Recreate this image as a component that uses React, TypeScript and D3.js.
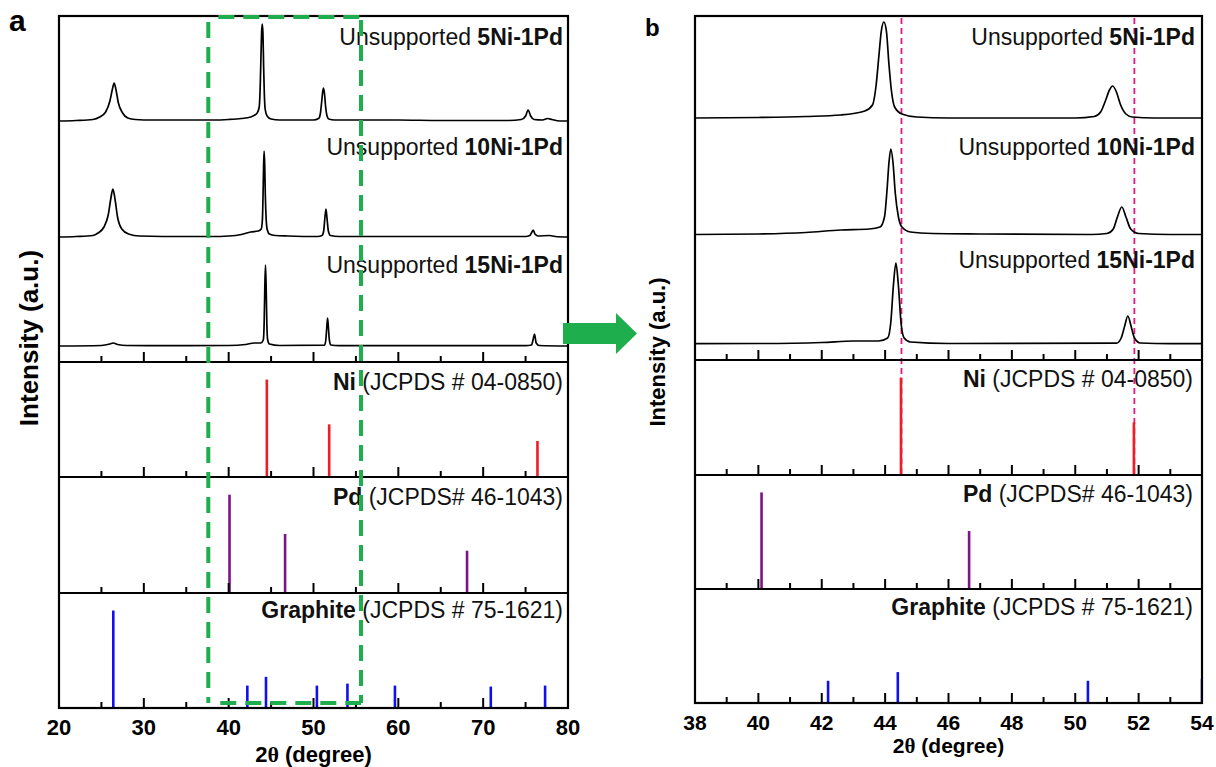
import React from "react";
import * as d3 from "d3";

// ---------- data ----------
const sampleLabels = ["5Ni-1Pd", "10Ni-1Pd", "15Ni-1Pd"];

// 2θ (deg), intensity above baseline (a.u.)
const pattern5Ni: [number, number][] = [
  [20, 0], [22, 0.5], [24, 1.5], [24.8, 4], [25.5, 9], [26.0, 20], [26.3, 32], [26.5, 38], [26.7, 32],
  [27.0, 18], [27.5, 8], [28.1, 3], [29, 1.5], [31, 1], [35, 1], [38, 1], [40, 1.5], [41.5, 2.5],
  [42.6, 4], [43.36, 8], [43.6, 14], [43.72, 35], [43.8, 62], [43.88, 88], [43.96, 97], [44.04, 88],
  [44.12, 55], [44.2, 28], [44.3, 12], [44.53, 5], [45, 2], [46, 1], [48, 1], [50, 1], [50.6, 2.5],
  [50.8, 7], [50.95, 18], [51.08, 29], [51.18, 33], [51.3, 27], [51.42, 15], [51.6, 5], [51.8, 2],
  [52.5, 1], [56, 1], [60, 1], [65, 0.5], [70, 0.5], [73, 0.5], [74.5, 1.5], [75.0, 5], [75.3, 11],
  [75.6, 5], [76.0, 1.5], [77, 1], [77.6, 2.5], [78.1, 1.5], [79, 0], [80, 0],
];

const pattern10Ni: [number, number][] = [
  [20, 0], [22, 0.5], [24, 1.5], [24.6, 4], [25.3, 10], [25.8, 22], [26.1, 38], [26.35, 48], [26.6, 38],
  [26.9, 20], [27.4, 8], [28.2, 3], [29.5, 1], [35, 0.5], [38, 0.5], [40, 1], [41.5, 2.5], [42.6, 5],
  [43.5, 6], [43.84, 8], [43.98, 18], [44.06, 45], [44.12, 72], [44.18, 86], [44.25, 72], [44.32, 42],
  [44.42, 18], [44.53, 8], [44.8, 3], [45.5, 1.5], [47, 1], [50.5, 0.5], [51.0, 1.5], [51.2, 6],
  [51.33, 18], [51.47, 28], [51.6, 18], [51.75, 6], [52.0, 1.5], [53, 0.5], [65, 0.5], [75, 0.5],
  [75.5, 1.5], [75.75, 5], [75.9, 7], [76.1, 3], [76.5, 1], [77.8, 1.5], [78.5, 0.5], [80, 0],
];

const pattern15Ni: [number, number][] = [
  [20, 0], [25, 0.5], [26.0, 2], [26.4, 3], [26.9, 1.5], [28, 0.5], [35, 0.3], [40, 0.5], [42, 1.5],
  [43, 3], [43.8, 3], [44.08, 6], [44.18, 22], [44.26, 58], [44.34, 81], [44.42, 58], [44.5, 22],
  [44.6, 6], [44.8, 2], [46, 0.5], [51.3, 0.8], [51.45, 6], [51.56, 18], [51.66, 28], [51.76, 18],
  [51.87, 6], [52.05, 1], [53, 0.3], [65, 0.3], [75, 0.3], [75.7, 1], [75.9, 7], [76.05, 12],
  [76.25, 3], [76.6, 0.5], [80, 0],
];

const patterns = [pattern5Ni, pattern10Ni, pattern15Ni];
const stackOffsets = [241, 125, 16];

const niPeaks = [44.5, 51.85, 76.4];
const niIntensity = [100, 54, 37];
const pdPeaks = [40.1, 46.65, 68.1];
const pdIntensity = [100, 60, 43];
const graphitePeaks = [26.4, 42.2, 44.4, 50.4, 54.0, 59.6, 70.9, 77.3];
const graphiteIntensity = [100, 23, 32, 23, 25, 23, 22, 23];

const refNames = ["Ni", "Pd", "Graphite"];
const refCards = [" (JCPDS # 04-0850)", " (JCPDS# 46-1043)", " (JCPDS # 75-1621)"];
const refPeaks = [niPeaks, pdPeaks, graphitePeaks];
const refIntensity = [niIntensity, pdIntensity, graphiteIntensity];
const refColors = ["#ee1c24", "#7d1486", "#1010ee"];

const zoomWindow = [37.6, 55.6];

const FONT = "Arial, 'Liberation Sans', Helvetica, sans-serif";
const SERIF = "'Times New Roman', 'Liberation Serif', serif";
const GREEN = "#1fae4e";
const PINK = "#e8177f";

type Cfg = {
  id: string;
  letter: string;
  letterX: number;
  letterY: number;
  letterSize: number;
  xDomain: [number, number];
  major: number;
  minor: number;
  left: number;
  right: number;
  top: number;
  bottoms: number[];
  labelX: number;
  labelY: number[];
  refLabelX: number;
  refLabelY: number[];
  labelSize: number;
  tickSize: number;
  tickY: number;
  titleSize: number;
  titleY: number;
  yTitleX: number;
  yTitleY: number;
  yTitleSize: number;
  guides: boolean;
};

const cfgA: Cfg = {
  id: "a", letter: "a", letterX: 9, letterY: 31, letterSize: 30,
  xDomain: [20, 80], major: 10, minor: 5,
  left: 59, right: 568, top: 16, bottoms: [362, 477, 593, 708],
  labelX: 563, labelY: [45, 155, 273], refLabelX: 563, refLabelY: [390, 505, 618], labelSize: 23,
  tickSize: 22, tickY: 735, titleSize: 22, titleY: 762,
  yTitleX: 38, yTitleY: 338, yTitleSize: 26, guides: false,
};

const cfgB: Cfg = {
  id: "b", letter: "b", letterX: 645, letterY: 36, letterSize: 24,
  xDomain: [38, 54], major: 2, minor: 1,
  left: 695, right: 1202, top: 16, bottoms: [360, 475, 589, 703],
  labelX: 1195, labelY: [45, 155, 268], refLabelX: 1193, refLabelY: [387, 502, 615], labelSize: 23,
  tickSize: 21, tickY: 730, titleSize: 21, titleY: 753,
  yTitleX: 665, yTitleY: 352, yTitleSize: 22, guides: true,
};

function Panel({ c }: { c: Cfg }) {
  const x = d3.scaleLinear().domain(c.xDomain).range([c.left, c.right]);
  const topH = c.bottoms[0] - c.top;
  const yTop = d3.scaleLinear().domain([0, topH]).range([c.bottoms[0], c.top]);
  const rowTops = [c.top, c.bottoms[0], c.bottoms[1], c.bottoms[2]];
  const bottom = c.bottoms[3];
  const inDom = (v: number) => v >= c.xDomain[0] - 1e-9 && v <= c.xDomain[1] + 1e-9;

  const majors = d3.range(c.xDomain[0], c.xDomain[1] + 1e-9, c.major);
  const minors = d3.range(c.xDomain[0], c.xDomain[1] + 1e-9, c.minor).filter(
    (v) => Math.abs(((v - c.xDomain[0]) / c.major) - Math.round((v - c.xDomain[0]) / c.major)) > 1e-6
  );
  const clipId = `clip-${c.id}`;

  return (
    <g>
      <defs>
        <clipPath id={clipId}>
          <rect x={c.left} y={c.top} width={c.right - c.left} height={bottom - c.top} />
        </clipPath>
      </defs>
      <text x={c.letterX} y={c.letterY} fontSize={c.letterSize} fontWeight="bold" fontFamily={FONT}>
        {c.letter}
      </text>

      {/* guide lines (panel b) */}
      {c.guides &&
        niPeaks.filter(inDom).map((p, i) => (
          <line key={"g" + i} x1={x(p) + 0.5} x2={x(p) + 0.5} y1={c.top + 2} y2={c.bottoms[1]}
            stroke={PINK} strokeWidth={1.8} strokeDasharray="6,4" />
        ))}

      {/* measured patterns */}
      <g clipPath={`url(#${clipId})`}>
        {patterns.map((pat, i) => {
          const line = d3
            .line<[number, number]>()
            .x((d) => x(d[0]))
            .y((d) => yTop(d[1] + stackOffsets[i]))
            .curve(d3.curveMonotoneX);
          return <path key={i} d={line(pat) || ""} fill="none" stroke="#000" strokeWidth={1.7} strokeLinejoin="round" />;
        })}
        {/* reference sticks */}
        {refPeaks.map((peaks, r) => {
          const ys = d3.scaleLinear().domain([0, 118]).range([c.bottoms[r + 1], rowTops[r + 1]]);
          return peaks.map((p, k) =>
            inDom(p) ? (
              <line key={`s${r}-${k}`} x1={x(p)} x2={x(p)} y1={ys(0)} y2={ys(refIntensity[r][k])}
                stroke={refColors[r]} strokeWidth={2.6} />
            ) : null
          );
        })}
      </g>

      {/* ticks on each row */}
      {c.bottoms.map((b, r) => (
        <g key={"t" + r}>
          {majors.map((v) => (
            <line key={"M" + v} x1={x(v)} x2={x(v)} y1={b} y2={b - 10} stroke="#000" strokeWidth={2} />
          ))}
          {minors.map((v) => (
            <line key={"m" + v} x1={x(v)} x2={x(v)} y1={b} y2={b - 6} stroke="#000" strokeWidth={2} />
          ))}
        </g>
      ))}

      {/* frame */}
      <rect x={c.left} y={c.top} width={c.right - c.left} height={bottom - c.top} fill="none" stroke="#000" strokeWidth={2.2} />
      {c.bottoms.slice(0, 3).map((b, r) => (
        <line key={"d" + r} x1={c.left} x2={c.right} y1={b} y2={b} stroke="#000" strokeWidth={2.2} />
      ))}

      {/* sample labels */}
      {sampleLabels.map((s, i) => (
        <text key={"l" + i} x={c.labelX} y={c.labelY[i]} textAnchor="end" fontSize={c.labelSize} fontFamily={FONT} fill="#111">
          Unsupported <tspan fontWeight="bold">{s}</tspan>
        </text>
      ))}
      {refNames.map((n, r) => (
        <text key={"r" + r} x={c.refLabelX} y={c.refLabelY[r]} textAnchor="end" fontSize={c.labelSize} fontFamily={FONT} fill="#111">
          <tspan fontWeight="bold">{n}</tspan>
          {refCards[r]}
        </text>
      ))}

      {/* tick labels */}
      {majors.map((v) => (
        <text key={"tl" + v} x={x(v)} y={c.tickY} textAnchor="middle" fontSize={c.tickSize} fontWeight="bold" fontFamily={FONT}>
          {v}
        </text>
      ))}
      <text x={(c.left + c.right) / 2} y={c.titleY} textAnchor="middle" fontSize={c.titleSize} fontWeight="bold" fontFamily={FONT}>
        2<tspan fontFamily={SERIF}>θ</tspan> (degree)
      </text>
      <text transform={`translate(${c.yTitleX},${c.yTitleY}) rotate(-90)`} textAnchor="middle" fontSize={c.yTitleSize}
        fontWeight="bold" fontFamily={FONT}>
        Intensity (a.u.)
      </text>
    </g>
  );
}

function ZoomBox() {
  const x = d3.scaleLinear().domain(cfgA.xDomain).range([cfgA.left, cfgA.right]);
  const x0 = x(zoomWindow[0]);
  const x1 = x(zoomWindow[1]);
  const yT = 17;
  const yB = 703;
  const common = { stroke: GREEN, strokeWidth: 4, strokeDasharray: "16,9", fill: "none" } as const;
  return (
    <g>
      <line x1={x0} x2={x0} y1={yT + 5} y2={yB} {...common} />
      <line x1={x1} x2={x1} y1={yT + 3} y2={yB} {...common} />
      <line x1={x0 + 10} x2={x1} y1={yT} y2={yT} {...common} />
      <line x1={x0 + 12} x2={x1} y1={yB} y2={yB} {...common} />
    </g>
  );
}

function Arrow() {
  return (
    <g fill={GREEN}>
      <rect x={563} y={323} width={55} height={21} />
      <polygon points="616,313 637,333.5 616,354" />
    </g>
  );
}

export default function App() {
  return (
    <svg width={1216} height={767} style={{ position: "absolute", left: 0, top: 0, background: "#fff" }}>
      <rect width={1216} height={767} fill="#fff" />
      <Panel c={cfgA} />
      <ZoomBox />
      <Panel c={cfgB} />
      <Arrow />
    </svg>
  );
}
